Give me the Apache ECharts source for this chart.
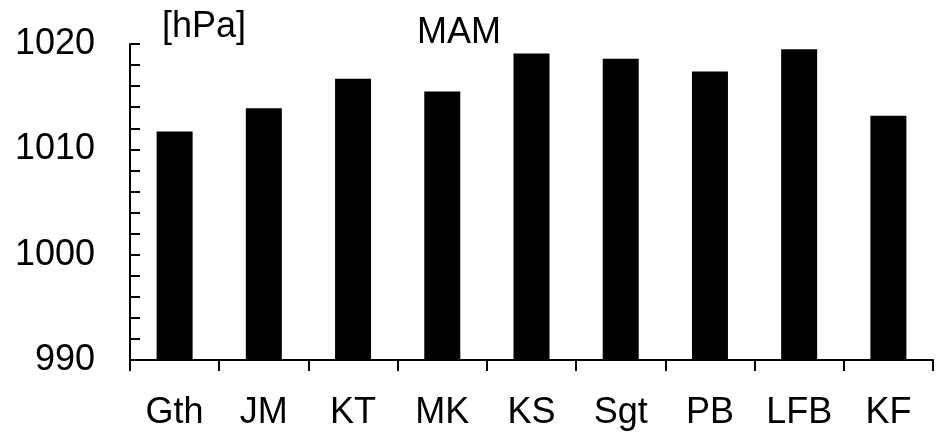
<!DOCTYPE html>
<html>
<head>
<meta charset="utf-8">
<script src="https://cdn.jsdelivr.net/npm/echarts@6/dist/echarts.min.js"></script>
<style>
  html, body { margin: 0; padding: 0; background: #fff; }
  #chart { width: 942px; height: 433px; }
</style>
</head>
<body>
<div id="chart"></div>
<script>
// Mean sea-level pressure per station, spring season (MAM)
const stations = ['Gth', 'JM', 'KT', 'MK', 'KS', 'Sgt', 'PB', 'LFB', 'KF'];
const pressure = [1011.7, 1013.9, 1016.7, 1015.5, 1019.1, 1018.6, 1017.4, 1019.5, 1013.2];
const yTickLabels = [990, 1000, 1010, 1020];
const unitLabel = '[hPa]';
const seasonLabel = 'MAM';

const FONT = 'Liberation Sans, Arial, sans-serif';
const chart = echarts.init(document.getElementById('chart'), null, { renderer: 'canvas' });

chart.setOption({
  animation: false,
  backgroundColor: '#ffffff',
  grid: { left: 130, right: 9, top: 44, bottom: 73, containLabel: false },
  xAxis: {
    type: 'category',
    data: stations,
    axisLine: { show: true, lineStyle: { color: '#000', width: 2 } },
    axisTick: { show: true, inside: false, length: 11, alignWithLabel: false, lineStyle: { color: '#000', width: 2 } },
    axisLabel: { color: '#000', fontSize: 36, fontFamily: FONT, margin: 35 },
    splitLine: { show: false }
  },
  yAxis: {
    type: 'value',
    min: 990,
    max: 1020,
    interval: 2,
    axisLine: { show: true, lineStyle: { color: '#000', width: 2 } },
    axisTick: { show: true, inside: true, length: 10, lineStyle: { color: '#000', width: 2 } },
    axisLabel: {
      color: '#000', fontSize: 36, fontFamily: FONT, margin: 35,
      formatter: v => (yTickLabels.indexOf(v) >= 0 ? String(v) : '')
    },
    splitLine: { show: false }
  },
  series: [{
    type: 'bar',
    data: pressure,
    barWidth: 36,
    itemStyle: { color: '#000' }
  }],
  graphic: [
    {
      type: 'text', left: 162, top: 9,
      style: { text: unitLabel, fill: '#000', font: '36px ' + FONT }
    },
    {
      type: 'text', left: 417, top: 15,
      style: { text: seasonLabel, fill: '#000', font: '36px ' + FONT }
    }
  ]
});
</script>
</body>
</html>
